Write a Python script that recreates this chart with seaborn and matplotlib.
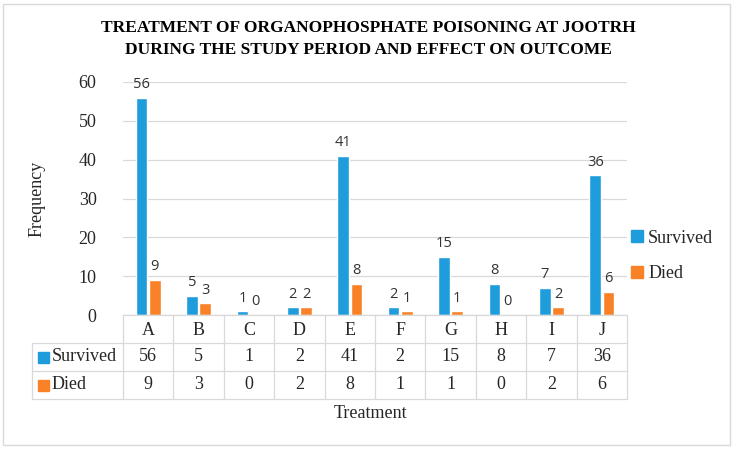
import matplotlib
matplotlib.use("Agg")
import matplotlib.pyplot as plt
import matplotlib.transforms as mtransforms
import seaborn as sns
import pandas as pd
from matplotlib.patches import Patch, Rectangle
from matplotlib.lines import Line2D

treatments = ["A", "B", "C", "D", "E", "F", "G", "H", "I", "J"]
survived = [56, 5, 1, 2, 41, 2, 15, 8, 7, 36]
died = [9, 3, 0, 2, 8, 1, 1, 0, 2, 6]
series = ["Survived", "Died"]
yticks = [0, 10, 20, 30, 40, 50, 60]
title = "TREATMENT OF ORGANOPHOSPHATE POISONING AT JOOTRH\nDURING THE STUDY PERIOD AND EFFECT ON OUTCOME"
colors = {"Survived": "#1F9CDB", "Died": "#F98228"}

df = pd.DataFrame({
    "Treatment": treatments * 2,
    "Outcome": [series[0]] * len(treatments) + [series[1]] * len(treatments),
    "Frequency": survived + died,
})

sns.set_theme(style="white")
plt.rcParams['font.family'] = ['Liberation Serif', 'DejaVu Serif']

FS = 13
W, H = 735, 449
fig = plt.figure(figsize=(W / 100, H / 100), dpi=100)
ax = fig.add_axes([123 / W, 1 - 315 / H, 504 / W, 233 / H])

sns.barplot(data=df, x="Treatment", y="Frequency", hue="Outcome",
            palette=colors, width=0.52, gap=0.12, saturation=1,
            legend=False, ax=ax)

for c in ax.containers:
    ax.bar_label(c, padding=4, fontsize=10.5, family=['Open Sans', 'DejaVu Sans'],
                 color='#333333')

ax.set_ylim(0, 60)
ax.set_xlim(-0.5, len(treatments) - 0.5)
ax.set_yticks(yticks)
ax.yaxis.grid(True, color='#D9D9D9', lw=0.9)
ax.set_axisbelow(True)
for s in ["top", "right", "left"]:
    ax.spines[s].set_visible(False)
ax.spines["bottom"].set_color('#D9D9D9')
ax.spines["bottom"].set_linewidth(0.9)
ax.tick_params(axis='y', length=0, pad=19, labelsize=FS, labelcolor='#262626')
ax.tick_params(axis='x', length=0, pad=5, labelsize=FS, labelcolor='#262626')
ax.set_xlabel("")
ax.set_ylabel("")

# data table below the axis
gc = '#D9D9D9'
blend = mtransforms.blended_transform_factory(ax.transData, ax.transAxes)
row_y = [0, -0.120, -0.240, -0.361]
left_x = (32 - 123) / 504
for i in range(len(treatments) + 1):
    ax.add_line(Line2D([i - 0.5, i - 0.5], [row_y[0], row_y[3]], transform=blend,
                       color=gc, lw=0.9, clip_on=False))
ax.add_line(Line2D([left_x, left_x], [row_y[1], row_y[3]], transform=ax.transAxes,
                   color=gc, lw=0.9, clip_on=False))
for y in row_y[1:]:
    ax.add_line(Line2D([left_x, 1], [y, y], transform=ax.transAxes,
                       color=gc, lw=0.9, clip_on=False))

for vals, yc in [(survived, -0.180), (died, -0.300)]:
    for i, v in enumerate(vals):
        ax.text(i, yc, str(v), transform=blend, ha='center', va='center',
                fontsize=FS, color='#262626', clip_on=False)

for name, yc in [(series[0], -0.180), (series[1], -0.300)]:
    ax.add_patch(Rectangle(((38 - 123) / 504, yc - 0.025), 11 / 504, 11 / 233,
                           transform=ax.transAxes, color=colors[name], clip_on=False))
    ax.text((52 - 123) / 504, yc, name, transform=ax.transAxes, ha='left', va='center',
            fontsize=FS, color='#262626', clip_on=False)

# legend
handles = [Patch(color=colors[s], label=s) for s in series]
ax.legend(handles=handles, loc='center left', bbox_to_anchor=(631 / W, 1 - 256 / H),
          bbox_transform=fig.transFigure, frameon=False, handlelength=0.65,
          handleheight=0.65, handletextpad=0.3, labelspacing=1.05, fontsize=FS,
          borderaxespad=0, borderpad=0, labelcolor='#262626')

fig.text(37 / W, 1 - 199 / H, "Frequency", rotation=90, ha='center', va='center',
         fontsize=FS, color='#262626')
fig.text(370 / W, 1 - 414 / H, "Treatment", ha='center', va='center',
         fontsize=FS, color='#262626')
fig.text(368 / W, 1 - 39 / H, title, ha='center', va='center', fontsize=12.5,
         fontweight='bold', color='#000000', linespacing=1.45)

fig.add_artist(Rectangle((3 / W, 4 / H), 727 / W, 441 / H, transform=fig.transFigure,
                         fill=False, ec='#D9D9D9', lw=1))

fig.savefig("out.png", dpi=100)
